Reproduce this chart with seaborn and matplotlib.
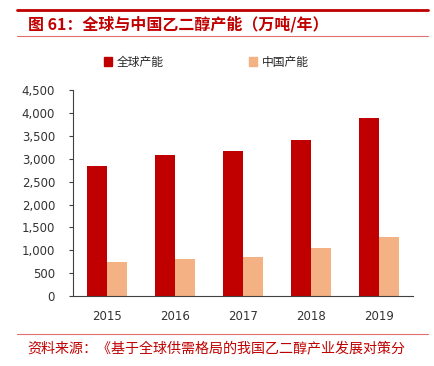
import numpy as np
import pandas as pd
import matplotlib.pyplot as plt
import seaborn as sns
from matplotlib.lines import Line2D
from matplotlib.patches import Patch

# data
years = ['2015', '2016', '2017', '2018', '2019']
global_cap = [2850, 3090, 3160, 3410, 3900]
china_cap = [750, 820, 860, 1050, 1300]
series = ['全球产能', '中国产能']
colors = ['#C00000', '#F4B183']

df = pd.DataFrame({
    'year': years * 2,
    'value': global_cap + china_cap,
    'series': [series[0]] * 5 + [series[1]] * 5,
})

sns.set_style('white')
plt.rcParams['font.family'] = ['Noto Sans CJK SC', 'DejaVu Sans']

fig = plt.figure(figsize=(4.35, 3.66), dpi=100)
ax = fig.add_axes([0.168, 0.191, 0.782, 0.563])

sns.barplot(data=df, x='year', y='value', hue='series', palette=colors,
            width=0.59, saturation=1, linewidth=0, gap=0, ax=ax, legend=False)

ax.set_xlim(-0.5, 4.5)
ax.set_ylim(0, 4500)
ax.set_yticks(np.arange(0, 4501, 500))
ax.set_yticklabels([f'{v:,}' for v in range(0, 4501, 500)])
ax.set_xlabel('')
ax.set_ylabel('')
for s in ['top', 'right']:
    ax.spines[s].set_visible(False)
ax.spines['left'].set_color('#404040')
ax.spines['bottom'].set_color('#404040')
ax.spines['left'].set_linewidth(0.8)
ax.spines['bottom'].set_linewidth(0.8)
ax.tick_params(axis='y', which='major', length=3, direction='out', color='#404040',
               labelsize=8.5, pad=10, left=True)
ax.tick_params(axis='x', length=0, labelsize=8.5, pad=10)
for lbl in ax.get_yticklabels() + ax.get_xticklabels():
    lbl.set_family('DejaVu Sans')
    lbl.set_color('#333333')

# legend
handles = [Patch(color=c) for c in colors]
fig.legend(handles, series, loc='center', bbox_to_anchor=(0.475, 0.83), ncol=2,
           frameon=False, fontsize=8.5, handlelength=0.7, handleheight=0.7,
           columnspacing=7.2, handletextpad=0.4)

# header and footer
fig.add_artist(Line2D([0.039, 0.984], [0.972, 0.972], color='#C00000', lw=2))
fig.text(0.064, 0.935, '图 61：全球与中国乙二醇产能（万吨/年）', color='#C00000',
         fontsize=11.5, fontweight='bold', va='center')
fig.add_artist(Line2D([0.039, 0.984], [0.902, 0.902], color='#E07070', lw=0.8))
fig.add_artist(Line2D([0.039, 0.984], [0.087, 0.087], color='#E07070', lw=0.8))
fig.text(0.062, 0.049, '资料来源：《基于全球供需格局的我国乙二醇产业发展对策分', color='#C00000',
         fontsize=10.1, va='center')

fig.savefig('out.png', dpi=100)
